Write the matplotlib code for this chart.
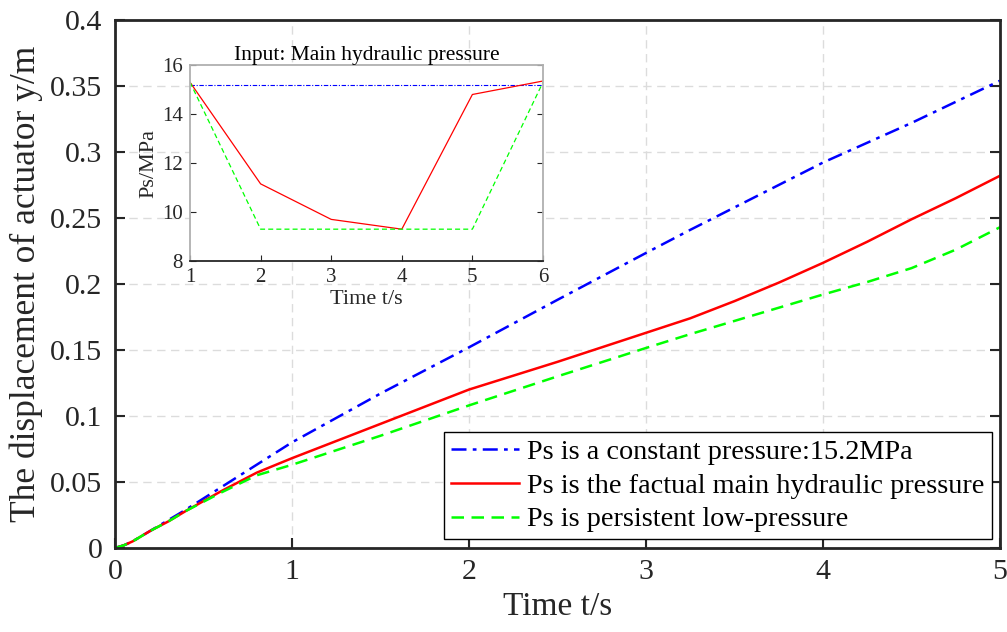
import matplotlib
matplotlib.use("Agg")
import matplotlib.pyplot as plt

plt.rcParams['font.family'] = ['Liberation Serif', 'DejaVu Serif']
plt.rcParams['mathtext.fontset'] = 'stix'

# Main chart data
t_main = [0, 0.05, 0.1, 0.2, 0.3, 0.4, 0.6, 0.8, 1.0, 1.5, 2.0, 2.5, 3.0, 3.25, 3.5, 3.75, 4.0, 4.25, 4.5, 4.75, 5.0]
y_const = [0, 0.002, 0.005, 0.013, 0.021, 0.029, 0.046, 0.063, 0.080, 0.117, 0.152, 0.188, 0.2235, 0.241, 0.258, 0.275, 0.292, 0.307, 0.322, 0.338, 0.354]
y_factual = [0, 0.002, 0.005, 0.013, 0.020, 0.028, 0.043, 0.057, 0.068, 0.094, 0.120, 0.141, 0.163, 0.174, 0.187, 0.201, 0.216, 0.232, 0.249, 0.265, 0.282]
y_low = [0, 0.002, 0.005, 0.013, 0.020, 0.028, 0.042, 0.055, 0.063, 0.085, 0.108, 0.130, 0.1515, 0.162, 0.172, 0.182, 0.192, 0.2015, 0.212, 0.226, 0.243]

# Inset data
t_in = [1, 2, 3, 4, 5, 6]
ps_const = [15.2, 15.2, 15.2, 15.2, 15.2, 15.2]
ps_factual = [15.3, 11.15, 9.7, 9.3, 14.8, 15.35]
ps_low = [15.3, 9.3, 9.3, 9.3, 9.3, 15.3]

labels = ['Ps is a constant pressure:15.2MPa',
          'Ps is the factual main hydraulic pressure',
          'Ps is persistent low-pressure']

fig = plt.figure(figsize=(10.07, 6.32), dpi=100)
ax = fig.add_axes([0.1142, 0.1330, 0.8789, 0.8354])

axc = '#262626'
ax.plot(t_main, y_const, color='#0000ff', lw=1.8, dashes=(6, 2.5, 1.5, 2.5), label=labels[0])
ax.plot(t_main, y_factual, color='#ff0000', lw=1.8, label=labels[1])
ax.plot(t_main, y_low, color='#00ff00', lw=1.8, dashes=(5, 3), label=labels[2])

ax.set_xlim(0, 5)
ax.set_ylim(0, 0.4)
ax.set_xticks([0, 1, 2, 3, 4, 5])
ax.set_xticklabels(['0', '1', '2', '3', '4', '5'])
ax.set_yticks([0, 0.05, 0.1, 0.15, 0.2, 0.25, 0.3, 0.35, 0.4])
ax.set_yticklabels(['0', '0.05', '0.1', '0.15', '0.2', '0.25', '0.3', '0.35', '0.4'])
ax.grid(True, color='#dcdcdc', linestyle=(0, (6, 4)), linewidth=1.0)
ax.tick_params(direction='in', length=7, width=1.5, colors=axc, labelsize=21.5,
               top=False, right=True)
ax.tick_params(axis='y', pad=9)
ax.tick_params(axis='x', pad=8)
for s in ax.spines.values():
    s.set_color(axc)
    s.set_linewidth(2.0)
ax.set_xlabel('Time t/s', fontsize=24, color=axc, labelpad=5)
ax.set_ylabel('The displacement of actuator y/m', fontsize=25.5, color=axc, labelpad=5)

leg = ax.legend(loc='lower right', fontsize=20.3, frameon=True, fancybox=False,
                handlelength=2.4, handletextpad=0.3, borderpad=0.25,
                labelspacing=0.28, borderaxespad=0.3, framealpha=1)
leg.get_frame().set_edgecolor('#000000')
leg.get_frame().set_linewidth(1.0)

# Inset
ai = fig.add_axes([0.1887, 0.587, 0.3505, 0.310])
ai.plot(t_in, ps_const, color='#0000ff', lw=0.8, dashes=(4, 1.5, 1, 1.5))
ai.plot(t_in, ps_factual, color='#ff0000', lw=0.9)
ai.plot(t_in, ps_low, color='#00ff00', lw=0.9, dashes=(4, 2.5))
ai.set_xlim(1, 6)
ai.set_ylim(8, 16)
ai.set_xticks([1, 2, 3, 4, 5, 6])
ai.set_yticks([8, 10, 12, 14, 16])
ai.tick_params(direction='in', length=4, width=0.8, colors=axc, labelsize=15,
               right=True, top=False, pad=5)
for s in ai.spines.values():
    s.set_color('#b0b0b0')
    s.set_linewidth(1.3)
ai.spines['bottom'].set_color(axc)
ai.set_title('Input: Main hydraulic pressure', fontsize=15.5, color='#000000', pad=4)
ai.set_xlabel('Time t/s', fontsize=16, color=axc, labelpad=2)
ai.set_ylabel('Ps/MPa', fontsize=16, color=axc, labelpad=3)

fig.savefig('out.png', dpi=100)
